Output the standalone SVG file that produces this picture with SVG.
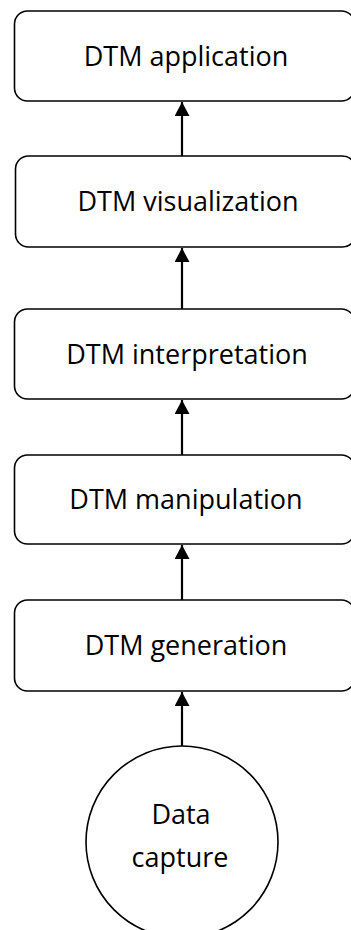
<svg xmlns="http://www.w3.org/2000/svg" width="351" height="930" viewBox="0 0 351 930">
  <style>
    .box { fill: #ffffff; stroke: #000000; stroke-width: 1.6; }
    .lbl { font-family: "Open Sans", "Liberation Sans", sans-serif; font-size: 27px; fill: #000000; text-anchor: middle; }
    .conn { stroke: #000000; stroke-width: 2.2; fill: none; marker-end: url(#head); }
  </style>
  <defs>
    <!-- filled triangular arrowhead, tip at the path end -->
    <marker id="head" markerWidth="16" markerHeight="15" refX="15" refY="8" orient="auto" markerUnits="userSpaceOnUse" viewBox="0 0 16 16">
      <path d="M0,0 L15,8 L0,16 Z" fill="#000000"/>
    </marker>
  </defs>
  <rect width="351" height="930" fill="#ffffff"/>

  <g id="connectors">
    <line class="conn" x1="182" y1="156" x2="182" y2="102"/>
    <line class="conn" x1="182" y1="309" x2="182" y2="248"/>
    <line class="conn" x1="182" y1="455" x2="182" y2="400"/>
    <line class="conn" x1="182" y1="600" x2="182" y2="545"/>
    <line class="conn" x1="182" y1="746" x2="182" y2="692"/>
  </g>

  <g id="dtm-application">
    <rect class="box" x="14.5" y="11" width="340" height="90" rx="13"/>
    <text class="lbl" x="186" y="66">DTM application</text>
  </g>
  <g id="dtm-visualization">
    <rect class="box" x="15.5" y="156" width="340" height="91" rx="13"/>
    <text class="lbl" x="188" y="211">DTM visualization</text>
  </g>
  <g id="dtm-interpretation">
    <rect class="box" x="14.5" y="309" width="340" height="90" rx="13"/>
    <text class="lbl" x="187" y="364">DTM interpretation</text>
  </g>
  <g id="dtm-manipulation">
    <rect class="box" x="14.5" y="455" width="340" height="89" rx="13"/>
    <text class="lbl" x="186" y="509">DTM manipulation</text>
  </g>
  <g id="dtm-generation">
    <rect class="box" x="14.5" y="600" width="340" height="91" rx="13"/>
    <text class="lbl" x="186" y="655">DTM generation</text>
  </g>
  <g id="data-capture">
    <circle class="box" cx="182" cy="842" r="96"/>
    <text class="lbl" x="181" y="824">Data</text>
    <text class="lbl" x="180" y="867">capture</text>
  </g>
</svg>
